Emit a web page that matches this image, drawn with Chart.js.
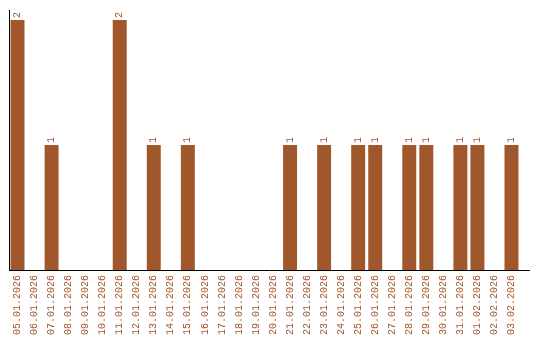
<!DOCTYPE html>
<html><head><meta charset="utf-8">
<script src="https://cdn.jsdelivr.net/npm/chart.js@4"></script>
<style>html,body{margin:0;padding:0;background:#fff}canvas{display:block}</style>
</head><body>
<canvas id="c" width="540" height="340"></canvas>
<script>
const categories = ["05.01.2026","06.01.2026","07.01.2026","08.01.2026","09.01.2026","10.01.2026","11.01.2026","12.01.2026","13.01.2026","14.01.2026","15.01.2026","16.01.2026","17.01.2026","18.01.2026","19.01.2026","20.01.2026","21.01.2026","22.01.2026","23.01.2026","24.01.2026","25.01.2026","26.01.2026","27.01.2026","28.01.2026","29.01.2026","30.01.2026","31.01.2026","01.02.2026","02.02.2026","03.02.2026"];
const counts = [2,0,1,0,0,0,2,0,1,0,1,0,0,0,0,0,1,0,1,0,1,1,0,1,1,0,1,1,0,1];
const yMax = 2.08;

const BROWN = '#a0572b';
const FONT = 'Liberation Mono';

const valueLabels = {
  id: 'valueLabels',
  afterDatasetsDraw(chart) {
    const ctx = chart.ctx;
    const meta = chart.getDatasetMeta(0);
    ctx.save();
    ctx.fillStyle = BROWN;
    ctx.font = '10px "' + FONT + '"';
    ctx.textAlign = 'left';
    ctx.textBaseline = 'middle';
    meta.data.forEach((bar, i) => {
      const v = counts[i];
      if (!v) return;
      ctx.save();
      ctx.translate(bar.x, bar.y - 2);
      ctx.rotate(-Math.PI / 2);
      ctx.fillText(String(v), 0, 0);
      ctx.restore();
    });
    ctx.restore();
  }
};

const baseLine = {
  id: 'baseLine',
  afterDatasetsDraw(chart) {
    const a = chart.chartArea, ctx = chart.ctx;
    const yy = Math.round(a.bottom) + 0.5;
    ctx.save();
    ctx.strokeStyle = '#000';
    ctx.lineWidth = 1;
    ctx.beginPath();
    ctx.moveTo(a.left, yy);
    ctx.lineTo(a.right + 10, yy);
    ctx.stroke();
    ctx.restore();
  }
};

new Chart(document.getElementById('c'), {
  type: 'bar',
  data: {
    labels: categories,
    datasets: [{
      data: counts,
      backgroundColor: BROWN,
      borderWidth: 0,
      barPercentage: 0.82,
      categoryPercentage: 1.0
    }]
  },
  options: {
    responsive: false,
    animation: false,
    layout: { padding: { left: 9, top: 10, right: 20, bottom: 0 } },
    plugins: { legend: { display: false }, tooltip: { enabled: false } },
    scales: {
      x: {
        offset: true,
        grid: { display: false, drawTicks: false },
        border: { display: false },
        ticks: {
          color: BROWN,
          font: { family: FONT, size: 10 },
          minRotation: 90, maxRotation: 90,
          autoSkip: false,
          padding: 5
        }
      },
      y: {
        min: 0, max: yMax,
        grid: { display: false, drawTicks: false },
        border: { display: true, color: '#000', width: 1 },
        ticks: { display: false }
      }
    }
  },
  plugins: [valueLabels, baseLine]
});
</script>
</body></html>
